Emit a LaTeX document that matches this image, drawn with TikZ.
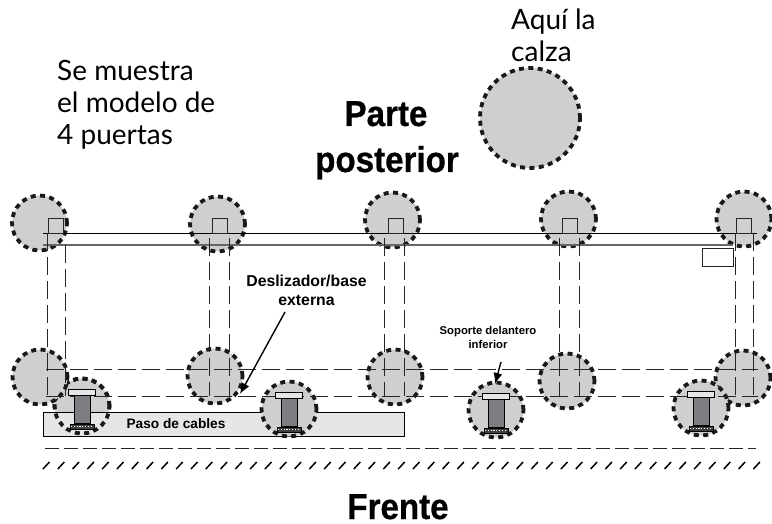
\documentclass[tikz,border=0pt]{standalone}
\usepackage{fontspec}
\setmainfont{Liberation Sans}
\newfontfamily\notafont{Lato}
\newfontfamily\titulofont[FakeBold=0.7]{Liberation Sans Bold}
\usetikzlibrary{arrows.meta}
\definecolor{grisclaro}{RGB}{206,207,209}
\definecolor{grispaso}{RGB}{229,230,232}
\definecolor{griscolumna}{RGB}{125,126,130}
\tikzset{
	calza/.style={circle, draw=black!90, fill=grisclaro, line width=3.8pt, dash pattern=on 5pt off 4.4pt, minimum size=55pt, inner sep=0pt},
	calzagrande/.style={calza, minimum size=100pt},
	riel/.style={draw=black, line width=0.8pt},
	guia/.style={draw=black!85, line width=0.8pt, dash pattern=on 18pt off 6pt},
	nota/.style={align=left, anchor=north west, inner sep=0pt, font=\notafont\fontsize{28}{32}\selectfont},
	titulo/.style={anchor=base, inner sep=0pt, xscale=0.92, font=\titulofont\fontsize{36}{36}\selectfont},
	rotulo/.style={align=center, inner sep=0pt, font=\bfseries\fontsize{15.8}{19}\selectfont},
	flecha/.style={draw=black, line width=1.4pt, -{Latex[length=11pt,width=9pt]}},
	soporte/.pic={
		\draw [fill=griscolumna, line width=0.9pt] (-8,-11) rectangle (8,17);
		\draw [fill=grispaso, line width=0.9pt] (-13.5,-17) rectangle (13.5,-11);
		\draw [fill=black!75, line width=0.6pt] (-12,18) rectangle (12,23);
		\draw [white, line width=0.8pt, dash pattern=on 1.2pt off 1.6pt] (-11,20.5) -- (11,20.5);
	}
}
\begin{document}
\begin{tikzpicture}[x=1pt, y=-1pt]
	\useasboundingbox (0,0) rectangle (772,524);
	% bloques de calza, parte de atras
	\node [calza] at (39.5,223) (t1) {};
	\node [calza] at (217.5,224) (t2) {};
	\node [calza] at (392.5,220) (t3) {};
	\node [calza] at (568.5,219) (t4) {};
	\node [calza] at (744,219) (t5) {};
	\node [calzagrande] at (530,118) (muestra) {};
	% paso de cables, con la primera calza debajo
	\node [calza] at (82,406) (b1) {};
	\node [draw=black, fill=grispaso, line width=0.8pt, minimum width=361pt, minimum height=24pt, inner sep=0pt] at (223.5,424) (paso) {};
	\node [font=\bfseries\fontsize{13.7}{15}\selectfont, inner sep=0pt] at (176,424) (pasotxt) {Paso de cables};
	\node [calza, fill=none] at (82,406) (b1b) {};
	% calzas de adelante
	\node [calza] at (40,377) (f1) {};
	\node [calza] at (215,376) (f2) {};
	\node [calza] at (395,377) (f3) {};
	\node [calza] at (567,381) (f4) {};
	\node [calza] at (743,378) (f5) {};
	\node [calza] at (289,409) (b2) {};
	\node [calza] at (496,410) (b3) {};
	\node [calza] at (701,408) (b4) {};
	% rieles
	\coordinate (r1) at (43,233);
	\coordinate (r2) at (757,233);
	\coordinate (r3) at (43,245);
	\coordinate (r4) at (733,245);
	\draw [riel] (r1) -- (r2);
	\draw [riel, draw=black!60, line width=1.2pt] (r3) -- (r4);
	% cuadros sobre el riel
	\node [draw=black!85, line width=0.8pt, minimum size=15pt, inner sep=0pt] at (55.5,225.5) (c1) {};
	\node [draw=black!85, line width=0.8pt, minimum size=15pt, inner sep=0pt] at (219.5,225.5) (c2) {};
	\node [draw=black!85, line width=0.8pt, minimum size=15pt, inner sep=0pt] at (395.5,225.5) (c3) {};
	\node [draw=black!85, line width=0.8pt, minimum size=15pt, inner sep=0pt] at (569.5,225.5) (c4) {};
	\node [draw=black!85, line width=0.8pt, minimum size=15pt, inner sep=0pt] at (744,225.5) (c5) {};
	\node [draw=black!85, fill=white, line width=0.9pt, minimum width=31pt, minimum height=18pt, inner sep=0pt] at (717.5,257) (caja) {};
	% guias a trazos
	\foreach \x/\ya in {47/233, 65/245, 209/238, 229/238, 384/238, 404/238, 559/238, 579/238, 735/233, 753/233} {
		\coordinate (va) at (\x,\ya);
		\coordinate (vb) at (\x,396);
		\draw [guia] (va) -- (vb);
	}
	\coordinate (h1) at (46,369);
	\coordinate (h2) at (758,369);
	\coordinate (h3) at (46,396);
	\coordinate (h4) at (758,396);
	\coordinate (h5) at (45,448);
	\coordinate (h6) at (756,448);
	\draw [guia] (h1) -- (h2);
	\draw [guia] (h3) -- (h4);
	\draw [guia, dash pattern=on 14pt off 5pt] (h5) -- (h6);
	% piso
	\foreach \i in {0,...,48} {
		\coordinate (p1) at ({43+14.8*\i},469);
		\coordinate (p2) at ({43+14.8*\i+6.5},462);
		\draw [draw=black, line width=1.5pt] (p1) -- (p2);
	}
	% soportes
	\pic at (82,406) {soporte};
	\pic at (289,409) {soporte};
	\pic at (496,410) {soporte};
	\pic at (701,408) {soporte};
	% textos
	\node [nota] at (57,60) (modelo) {Se muestra\\el modelo de\\4 puertas};
	\node [nota] at (511,9) (aqui) {Aquí la\\calza};
	\node [titulo] at (386,126) (parte) {Parte};
	\node [titulo] at (387,172) (posterior) {posterior};
	\node [titulo] at (398,519) (frente) {Frente};
	\node [rotulo] at (306.5,290) (deslizador) {Deslizador/base\\externa};
	\node [rotulo, font=\bfseries\fontsize{11.3}{14}\selectfont] at (488,337) (delantero) {Soporte delantero\\inferior};
	% flechas
	\coordinate (d1) at (285,312);
	\coordinate (d2) at (240,394);
	\coordinate (e1) at (501,362);
	\coordinate (e2) at (495,384);
	\draw [flecha] (d1) -- (d2);
	\draw [flecha] (e1) -- (e2);
\end{tikzpicture}
\end{document}
